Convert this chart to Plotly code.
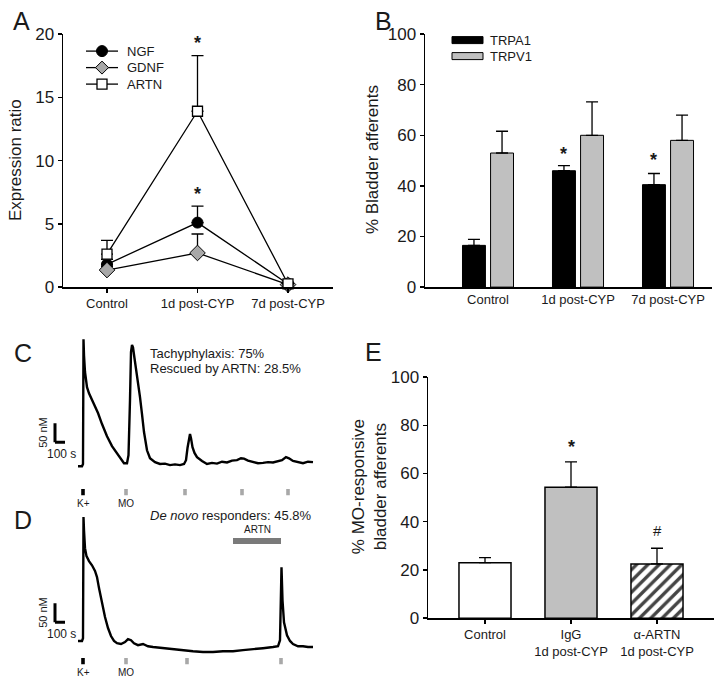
import plotly.graph_objects as go

# mapping from reference pixels to figure pixels (compensates page/photo geometry)
OX = 0.0
SY, OY = 0.9726, 8.9
FW = 724
FH = int(round((685 - OY) / SY))

def px(x):  # reference pixel -> paper x
    return (x - OX) / FW
def py(y):  # reference pixel -> paper y
    return 1 - ((y - OY) / SY) / FH

FONT = "Arial, Liberation Sans, sans-serif"
INK = "#1a1a1a"

# ---------------- Panel A : expression ratio ----------------
a_categories = ["Control", "1d post-CYP", "7d post-CYP"]
ngf = [1.8, 5.1, 0.25]
ngf_err = [0.4, 1.3, 0.1]
gdnf = [1.35, 2.7, 0.2]
gdnf_err = [0.3, 1.5, 0.1]
artn = [2.6, 13.9, 0.25]
artn_err = [1.1, 4.4, 0.1]
a_yticks = [0, 5, 10, 15, 20]
a_star_x = [1, 1]
a_star_y = [19.6, 7.7]

# ---------------- Panel B : % bladder afferents ----------------
b_categories = ["Control", "1d post-CYP", "7d post-CYP"]
trpa1 = [16.5, 46.0, 40.5]
trpa1_err = [2.4, 2.0, 4.4]
trpv1 = [53.0, 60.0, 58.0]
trpv1_err = [8.6, 13.2, 10.0]
b_yticks = [0, 20, 40, 60, 80, 100]
b_star_x = [1, 2]
b_star_y = [54.2, 51.8]

# ---------------- Panel E : % MO-responsive ----------------
e_categories = ["Control", "IgG<br>1d post-CYP", "α-ARTN<br>1d post-CYP"]
e_values = [23.0, 54.3, 22.5]
e_err = [2.1, 10.5, 6.5]
e_yticks = [0, 20, 40, 60, 80, 100]
e_mark_text = ["*", "#"]
e_mark_x = [1, 2]
e_mark_y = [72.6, 36.5]

# ---------------- Panel C : calcium trace (time s, d[Ca] nM) ----------------
c_time = [-50, -10, 0, 5, 10, 20, 40, 60, 90, 120, 150, 190, 240, 290, 330, 370,
          410, 440, 455, 470, 480, 490, 500, 515, 540, 570, 590, 610, 640, 670,
          720, 770, 820, 870, 920, 970, 1010, 1030, 1045, 1060, 1070, 1080, 1095,
          1115, 1140, 1190, 1240, 1290, 1340, 1390, 1440, 1490, 1540, 1580, 1610,
          1650, 1700, 1750, 1800, 1850, 1900, 1950, 1990, 2030, 2060, 2100, 2150,
          2200, 2250, 2300]
c_ca = [-3, -3, 3, 331, 289, 245, 205, 189, 171, 155, 137, 108, 76, 50, 34, 18,
        5, 5, 26, 171, 297, 316, 310, 281, 237, 179, 134, 87, 39, 18,
        8, 3, 4, 0, 2, 0, 3, 13, 45, 76, 82, 71, 47,
        32, 21, 11, 3, 6, 4, 9, 7, 12, 13, 18, 17,
        12, 8, 5, 6, 8, 7, 11, 13, 21, 18, 11, 8,
        5, 9, 8]
c_stim_time = [0, 430, 1020, 1590, 2050]
c_stim_label = ["K+", "MO", "", "", ""]

# ---------------- Panel D : calcium trace ----------------
d_time = [-50, -10, 0, 5, 10, 20, 35, 60, 90, 120, 140, 160, 190, 220, 250, 280,
          310, 340, 380, 420, 450, 480, 510, 550, 600, 650, 700, 800, 900, 1000,
          1100, 1200, 1300, 1400, 1500, 1600, 1700, 1800, 1900, 1950, 1970, 1980,
          1985, 1995, 2010, 2040, 2070, 2100, 2150, 2200, 2250, 2300]
d_ca = [11, 11, 18, 337, 302, 255, 234, 221, 210, 195, 179, 150, 110, 74, 45, 24,
        11, 5, 3, 8, 16, 13, 5, 0, 3, -3, -5, -8, -11, -13,
        -16, -18, -18, -16, -16, -13, -11, -8, -5, -3, 13, 205,
        205, 118, 60, 26, 11, 3, -3, -3, -5, -5]
d_stim_time = [0, 430, 1040, 1980]
d_stim_label = ["K+", "MO", "", ""]
d_artn_window = [1500, 1980]

# ---------------- figure ----------------
fig = go.Figure()

err_style = dict(type="data", symmetric=False, color="black", thickness=1.3, width=6)
a_series = [
    ("NGF", ngf, ngf_err, dict(symbol="circle", size=11, color="black", line=dict(color="black", width=1))),
    ("GDNF", gdnf, gdnf_err, dict(symbol="diamond", size=12, color="#a8a8a8", line=dict(color="black", width=1))),
    ("ARTN", artn, artn_err, dict(symbol="square", size=10, color="white", line=dict(color="black", width=1.3))),
]
for name, vals, err, mk in a_series:
    fig.add_trace(go.Scatter(
        x=list(range(len(a_categories))), y=vals, name=name, mode="lines+markers",
        line=dict(color="black", width=1.3), marker=mk,
        error_y=dict(err_style, array=err, arrayminus=[0] * len(err)),
        xaxis="x", yaxis="y", showlegend=False, cliponaxis=False))

bw = 0.255
bo = 0.156
fig.add_trace(go.Bar(
    x=list(range(len(b_categories))), y=trpa1, name="TRPA1", width=bw, offset=-bo - bw / 2,
    marker=dict(color="black", line=dict(color="black", width=1)),
    error_y=dict(err_style, array=trpa1_err, arrayminus=[0] * 3),
    xaxis="x2", yaxis="y2", showlegend=False))
fig.add_trace(go.Bar(
    x=list(range(len(b_categories))), y=trpv1, name="TRPV1", width=bw, offset=bo - bw / 2,
    marker=dict(color="#c0c0c0", line=dict(color="black", width=1)),
    error_y=dict(err_style, array=trpv1_err, arrayminus=[0] * 3),
    xaxis="x2", yaxis="y2", showlegend=False))

fig.add_trace(go.Bar(
    x=list(range(len(e_categories))), y=e_values, width=0.605,
    marker=dict(color=["white", "#c0c0c0", "white"], line=dict(color="black", width=1.5),
                pattern=dict(shape=["", "", "/"], fgcolor="black", bgcolor="white",
                             fgopacity=1, size=8, solidity=0.42)),
    error_y=dict(err_style, array=e_err, arrayminus=[0] * 3),
    xaxis="x3", yaxis="y3", showlegend=False))

fig.add_trace(go.Scatter(x=c_time, y=c_ca, mode="lines", line=dict(color="black", width=2.4),
                         xaxis="x4", yaxis="y4", showlegend=False))
fig.add_trace(go.Scatter(x=d_time, y=d_ca, mode="lines", line=dict(color="black", width=2.4),
                         xaxis="x5", yaxis="y5", showlegend=False))

# ---------------- axes ----------------
def cat_axis(dom, rng, cats, ticks, anchor):
    return dict(domain=dom, range=rng, tickvals=list(range(len(cats))), ticktext=cats,
                showline=True, linecolor="black", linewidth=1.5, ticks=ticks, ticklen=4,
                tickwidth=1.3, tickcolor="black", showgrid=False, zeroline=False,
                tickfont=dict(size=13, color=INK, family=FONT), fixedrange=True, anchor=anchor)

def val_axis(dom, rng, tv, anchor):
    return dict(domain=dom, range=rng, tickvals=tv, showline=True, linecolor="black",
                linewidth=1.5, ticks="outside", ticklen=4, tickwidth=1.3, tickcolor="black",
                showgrid=False, zeroline=False, anchor=anchor,
                tickfont=dict(size=17, color=INK, family=FONT), fixedrange=True)

ab_dom_y = [py(287), py(34)]
e_dom_y = [py(618), py(377)]

def cal_range(base_px, top_px, bot_px, scale):
    return [(base_px - bot_px) * scale, (base_px - top_px) * scale]

t_scale = 10.0   # seconds per reference pixel
ca_scale = 2.63  # nM per reference pixel
trace_x_range = [(0 - 83) * t_scale, (362 - 83) * t_scale]

fig.update_layout(
    width=FW, height=FH, margin=dict(l=0, r=0, t=0, b=0),
    paper_bgcolor="white", plot_bgcolor="rgba(0,0,0,0)",
    font=dict(family=FONT, color=INK),
    barmode="group", showlegend=False, hovermode=False,
    xaxis=cat_axis([px(63), px(333)], [(63 - 107) / 90.5, (333 - 107) / 90.5], a_categories, "outside", "y"),
    yaxis=val_axis(ab_dom_y, [0, 20], a_yticks, "x"),
    xaxis2=cat_axis([px(425), px(712)], [(425 - 488) / 90, (712 - 488) / 90], b_categories, "", "y2"),
    yaxis2=val_axis(ab_dom_y, [0, 100], b_yticks, "x2"),
    xaxis3=cat_axis([px(428), px(714)], [(428 - 485) / 86, (714 - 485) / 86], e_categories, "outside", "y3"),
    yaxis3=val_axis(e_dom_y, [0, 100], e_yticks, "x3"),
    xaxis4=dict(domain=[px(0), px(362)], range=trace_x_range, visible=False, anchor="y4", fixedrange=True),
    yaxis4=dict(domain=[py(510), py(330)], range=cal_range(465, 330, 510, ca_scale), visible=False, anchor="x4", fixedrange=True),
    xaxis5=dict(domain=[px(0), px(362)], range=trace_x_range, visible=False, anchor="y5", fixedrange=True),
    yaxis5=dict(domain=[py(684), py(505)], range=cal_range(645, 505, 684, ca_scale), visible=False, anchor="x5", fixedrange=True),
)

shapes = []
ann = []

def txt(x, y, s, size, xref="paper", yref="paper", xanchor="center", yanchor="middle", **kw):
    d = dict(x=x, y=y, text=s, xref=xref, yref=yref, showarrow=False,
             xanchor=xanchor, yanchor=yanchor,
             font=dict(size=size, color=INK, family=FONT))
    d.update(kw)
    ann.append(d)

for letter, lx, ly in [("A", 21, 21), ("B", 383, 21), ("C", 23, 353), ("D", 23, 520), ("E", 374, 352)]:
    txt(px(lx), py(ly), letter, 25)

txt(px(15), py(160), "Expression ratio", 17, textangle=-90)
txt(px(372), py(160), "% Bladder afferents", 17, textangle=-90)
txt(px(369), py(487), "% MO-responsive<br>bladder afferents", 17, textangle=-90)

for x, y in zip(a_star_x, a_star_y):
    txt(x, y, "<b>*</b>", 18, xref="x", yref="y", yshift=-4)
for x, y in zip(b_star_x, b_star_y):
    txt(x, y, "<b>*</b>", 18, xref="x2", yref="y2", xshift=-bo * 90, yshift=-4)
for s, x, y in zip(e_mark_text, e_mark_x, e_mark_y):
    if s == "*":
        txt(x, y, "<b>*</b>", 18, xref="x3", yref="y3", yshift=-4)
    else:
        txt(x, y, s, 15, xref="x3", yref="y3")

# A legend (manual)
for i, (name, _, _, mk) in enumerate(a_series):
    yc = 51 + 16.5 * i
    shapes.append(dict(type="line", xref="paper", yref="paper", x0=px(86), x1=px(118),
                       y0=py(yc), y1=py(yc), line=dict(color="black", width=1.3)))
    if mk["symbol"] == "circle":
        r = 5.5
        shapes.append(dict(type="circle", xref="paper", yref="paper", x0=px(102 - r), x1=px(102 + r),
                           y0=py(yc + r), y1=py(yc - r), fillcolor="black", line=dict(color="black", width=1)))
    elif mk["symbol"] == "diamond":
        r = 6.5
        path = "M{},{} L{},{} L{},{} L{},{} Z".format(px(102), py(yc - r), px(102 + r), py(yc),
                                                     px(102), py(yc + r), px(102 - r), py(yc))
        shapes.append(dict(type="path", xref="paper", yref="paper", path=path,
                           fillcolor="#a8a8a8", line=dict(color="black", width=1)))
    else:
        r = 5
        shapes.append(dict(type="rect", xref="paper", yref="paper", x0=px(102 - r), x1=px(102 + r),
                           y0=py(yc + r), y1=py(yc - r), fillcolor="white", line=dict(color="black", width=1.3)))
    txt(px(125), py(yc), name, 13, xanchor="left")

# B legend (manual)
for i, (lab, col) in enumerate([("TRPA1", "black"), ("TRPV1", "#c0c0c0")]):
    yc = 40 + 16 * i
    shapes.append(dict(type="rect", xref="paper", yref="paper", x0=px(452), x1=px(483),
                       y0=py(yc + 3.5), y1=py(yc - 3.5), fillcolor=col,
                       line=dict(color="black", width=1)))
    txt(px(488), py(yc), lab, 13, xanchor="left")

def trace_panel(xr, yr, stim_t, stim_lab, marker_ca, label_ca, L_base):
    for t, lab in zip(stim_t, stim_lab):
        k = lab == "K+"
        shapes.append(dict(type="rect", xref=xr, yref=yr, x0=t - 18, x1=t + 18,
                           y0=marker_ca - 8, y1=marker_ca + 8,
                           fillcolor="black" if k else "#a8a8a8", line=dict(width=0)))
        if lab:
            txt(t, label_ca, lab, 10, xref=xr, yref=yr)
    x0 = -280
    shapes.append(dict(type="line", xref=xr, yref=yr, x0=x0, x1=x0, y0=L_base, y1=L_base + 50,
                       line=dict(color="black", width=3)))
    shapes.append(dict(type="line", xref=xr, yref=yr, x0=x0, x1=x0 + 100, y0=L_base, y1=L_base,
                       line=dict(color="black", width=3)))
    txt(x0 - 120, L_base + 25, "50 nM", 11, xref=xr, yref=yr, textangle=-90)
    txt(-50, L_base - 32, "100 s", 12, xref=xr, yref=yr, xanchor="right")

trace_panel("x4", "y4", c_stim_time, c_stim_label, -71, -100, 60)
trace_panel("x5", "y5", d_stim_time, d_stim_label, -42, -71, 60)

txt(px(148), py(353), "Tachyphylaxis: 75%", 13, xanchor="left")
txt(px(148), py(368), "Rescued by ARTN: 28.5%", 13, xanchor="left")
txt(px(148), py(515), "<i>De novo</i> responders: 45.8%", 13, xanchor="left")

shapes.append(dict(type="rect", xref="x5", yref="y5", x0=d_artn_window[0], x1=d_artn_window[1],
                   y0=266, y1=282, fillcolor="#7a7a7a", line=dict(width=0)))
txt((d_artn_window[0] + d_artn_window[1]) / 2, 305, "ARTN", 10, xref="x5", yref="y5")

fig.update_layout(shapes=shapes, annotations=ann)
fig.write_html("out.html", config={"displayModeBar": False, "staticPlot": True},
               post_script="document.body.style.margin='0px';")
